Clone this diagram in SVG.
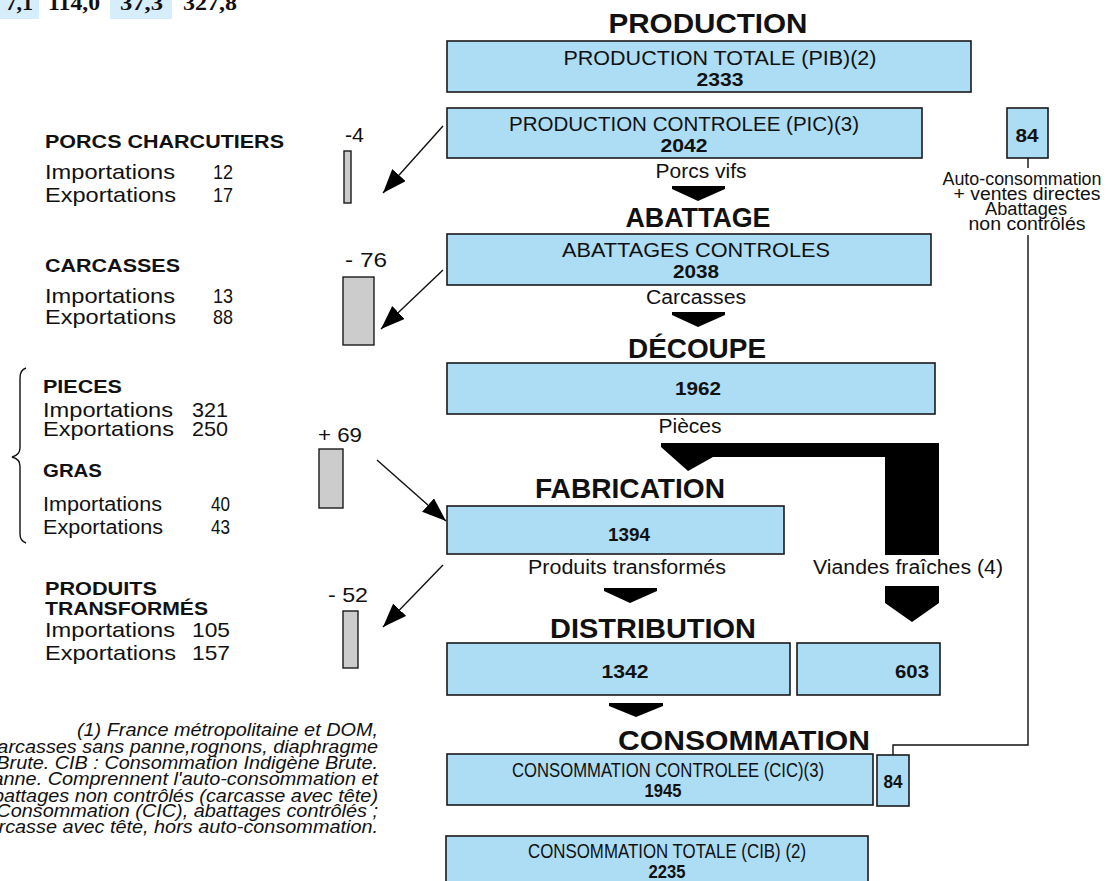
<svg xmlns="http://www.w3.org/2000/svg" width="1118" height="881" viewBox="0 0 1118 881">
<style>
.box{fill:#addcf5;stroke:#1a1a1a;stroke-width:1.6}
.bar{fill:#cccccc;stroke:#1a1a1a;stroke-width:1.4}
.cell{fill:#d6eefb}
text{font-family:"Liberation Sans",Arial,sans-serif;fill:#111}
.h{font-weight:bold;font-size:28px;text-anchor:middle}
.t{font-size:20px}
.L{font-size:21px}
.s{font-size:18px}
.nb{font-size:19px;font-weight:bold}
.b{font-weight:bold}
.c{text-anchor:middle}
.e{text-anchor:end}
.n{font-size:17.5px;font-style:italic}
.serif{font-family:"Liberation Serif","Times New Roman",serif;font-weight:bold;font-size:22px}
.ln{stroke:#111;stroke-width:1.4;fill:none}
.flow{fill:#000}
</style>
<defs>
<marker id="ah" markerUnits="userSpaceOnUse" markerWidth="26" markerHeight="20" refX="24" refY="9" orient="auto">
<path d="M0,0 L24,9 L0,18 z" fill="#000"/>
</marker>
</defs>
<rect width="1118" height="881" fill="#fff"/>

<g id="table-fragment">
<rect class="cell" x="0" y="0" width="39" height="19"/>
<rect class="cell" x="110" y="0" width="62" height="19"/>
<text class="serif e" x="33" y="10">7,1</text>
<text class="serif" x="48" y="10" textLength="52" lengthAdjust="spacingAndGlyphs">114,0</text>
<text class="serif" x="120" y="10" textLength="43" lengthAdjust="spacingAndGlyphs">37,3</text>
<text class="serif" x="183" y="10" textLength="54" lengthAdjust="spacingAndGlyphs">327,8</text>
</g>

<g id="headings">
<text class="h" x="708" y="33" textLength="199" lengthAdjust="spacingAndGlyphs">PRODUCTION</text>
<text class="h" x="698" y="227" textLength="145" lengthAdjust="spacingAndGlyphs">ABATTAGE</text>
<text class="h" x="697" y="358" textLength="138" lengthAdjust="spacingAndGlyphs">DÉCOUPE</text>
<text class="h" x="630" y="498" textLength="190" lengthAdjust="spacingAndGlyphs">FABRICATION</text>
<text class="h" x="653" y="638" textLength="206" lengthAdjust="spacingAndGlyphs">DISTRIBUTION</text>
<text class="h" x="744" y="750" textLength="252" lengthAdjust="spacingAndGlyphs">CONSOMMATION</text>
</g>

<g id="node-pib">
<rect class="box" x="447" y="41" width="524" height="51"/>
<text class="t c" x="720" y="65" textLength="313" lengthAdjust="spacingAndGlyphs">PRODUCTION TOTALE (PIB)(2)</text>
<text class="nb c" x="720" y="86" textLength="47" lengthAdjust="spacingAndGlyphs">2333</text>
</g>

<g id="node-pic">
<rect class="box" x="447" y="108" width="475" height="50"/>
<text class="t c" x="684" y="131" textLength="350" lengthAdjust="spacingAndGlyphs">PRODUCTION CONTROLEE (PIC)(3)</text>
<text class="nb c" x="684" y="152" textLength="47" lengthAdjust="spacingAndGlyphs">2042</text>
</g>

<g id="node-abattages">
<rect class="box" x="447" y="234" width="484" height="51"/>
<text class="t c" x="696" y="257" textLength="268" lengthAdjust="spacingAndGlyphs">ABATTAGES CONTROLES</text>
<text class="nb c" x="696" y="278" textLength="46" lengthAdjust="spacingAndGlyphs">2038</text>
</g>

<g id="node-decoupe">
<rect class="box" x="447" y="363" width="488" height="51"/>
<text class="nb c" x="698" y="395" textLength="46" lengthAdjust="spacingAndGlyphs">1962</text>
</g>

<g id="node-fabrication">
<rect class="box" x="447" y="506" width="337" height="48"/>
<text class="nb c" x="629" y="541" textLength="42" lengthAdjust="spacingAndGlyphs">1394</text>
</g>

<g id="node-distribution-transf">
<rect class="box" x="447" y="643" width="343" height="52"/>
<text class="nb c" x="625" y="678" textLength="47" lengthAdjust="spacingAndGlyphs">1342</text>
</g>

<g id="node-distribution-fraiche">
<rect class="box" x="797" y="643" width="143" height="52"/>
<text class="nb c" x="912" y="678" textLength="34" lengthAdjust="spacingAndGlyphs">603</text>
</g>

<g id="node-cic">
<rect class="box" x="447" y="754" width="426" height="51"/>
<text class="L c" x="668" y="777" textLength="312" lengthAdjust="spacingAndGlyphs">CONSOMMATION CONTROLEE (CIC)(3)</text>
<text class="nb c" x="663" y="797" textLength="37" lengthAdjust="spacingAndGlyphs">1945</text>
</g>

<g id="node-84-bottom">
<rect class="box" x="877" y="755" width="32" height="51"/>
<text class="nb c" x="893" y="788" textLength="19" lengthAdjust="spacingAndGlyphs">84</text>
</g>

<g id="node-cib">
<rect class="box" x="446" y="836" width="422" height="60"/>
<text class="L c" x="667" y="858" textLength="278" lengthAdjust="spacingAndGlyphs">CONSOMMATION TOTALE (CIB) (2)</text>
<text class="nb c" x="667" y="878" textLength="37" lengthAdjust="spacingAndGlyphs">2235</text>
</g>

<g id="node-84-top">
<rect class="box" x="1007" y="108" width="41" height="50"/>
<text class="nb c" x="1027" y="142" textLength="23" lengthAdjust="spacingAndGlyphs">84</text>
</g>

<g id="side-label">
<text class="s c" x="1022" y="185" textLength="159" lengthAdjust="spacingAndGlyphs">Auto-consommation</text>
<text class="s c" x="1027" y="200" textLength="147" lengthAdjust="spacingAndGlyphs">+ ventes directes</text>
<text class="s c" x="1026" y="215" textLength="82" lengthAdjust="spacingAndGlyphs">Abattages</text>
<text class="s c" x="1027" y="230" textLength="117" lengthAdjust="spacingAndGlyphs">non contrôlés</text>
</g>

<g id="connectors">
<polyline class="ln" points="1028,158 1028,168"/>
<polyline class="ln" points="1028,235 1028,745 893,745 893,755"/>
<polygon class="flow" points="672,186 725,186 725,189 698,201 672,189"/>
<polygon class="flow" points="672,312 725,312 725,315 698,327 672,315"/>
<polygon class="flow" points="661,443 939,443 939,555 885,555 885,457 713,457 688,471 661,447"/>
<polygon class="flow" points="604,588 657,588 657,591 630,603 604,591"/>
<polygon class="flow" points="885,586 939,586 939,603 912,622 885,603"/>
<polygon class="flow" points="609,703 663,703 663,706 636,717 609,706"/>
<line class="ln" x1="443" y1="126" x2="383" y2="193" marker-end="url(#ah)"/>
<line class="ln" x1="443" y1="270" x2="381" y2="329" marker-end="url(#ah)"/>
<line class="ln" x1="377" y1="460" x2="446" y2="521" marker-end="url(#ah)"/>
<line class="ln" x1="443" y1="565" x2="383" y2="627" marker-end="url(#ah)"/>
<text class="t c" x="701" y="178" textLength="91" lengthAdjust="spacingAndGlyphs">Porcs vifs</text>
<text class="t c" x="696" y="304" textLength="100" lengthAdjust="spacingAndGlyphs">Carcasses</text>
<text class="t c" x="690" y="433" textLength="63" lengthAdjust="spacingAndGlyphs">Pièces</text>
<text class="t" x="528" y="574" textLength="198" lengthAdjust="spacingAndGlyphs">Produits transformés</text>
<text class="t" x="813" y="574" textLength="190" lengthAdjust="spacingAndGlyphs">Viandes fraîches (4)</text>
</g>

<g id="trade-bars">
<rect class="bar" x="344" y="151" width="7" height="52"/>
<text class="L" x="345" y="142" textLength="19" lengthAdjust="spacingAndGlyphs">-4</text>
<rect class="bar" x="343" y="277" width="31" height="68"/>
<text class="L" x="345" y="267" textLength="42" lengthAdjust="spacingAndGlyphs">- 76</text>
<rect class="bar" x="319" y="449" width="24" height="59"/>
<text class="L" x="318" y="442" textLength="44" lengthAdjust="spacingAndGlyphs">+ 69</text>
<rect class="bar" x="343" y="611" width="15" height="57"/>
<text class="L" x="328" y="602" textLength="40" lengthAdjust="spacingAndGlyphs">- 52</text>
</g>

<g id="trade-labels">
<text class="nb" x="45" y="148" textLength="239" lengthAdjust="spacingAndGlyphs">PORCS CHARCUTIERS</text>
<text class="L" x="45" y="179" textLength="130" lengthAdjust="spacingAndGlyphs">Importations</text>
<text class="L" x="213" y="179" textLength="20" lengthAdjust="spacingAndGlyphs">12</text>
<text class="L" x="45" y="202" textLength="131" lengthAdjust="spacingAndGlyphs">Exportations</text>
<text class="L" x="213" y="202" textLength="20" lengthAdjust="spacingAndGlyphs">17</text>

<text class="nb" x="45" y="272" textLength="135" lengthAdjust="spacingAndGlyphs">CARCASSES</text>
<text class="L" x="45" y="303" textLength="130" lengthAdjust="spacingAndGlyphs">Importations</text>
<text class="L" x="213" y="303" textLength="20" lengthAdjust="spacingAndGlyphs">13</text>
<text class="L" x="45" y="324" textLength="131" lengthAdjust="spacingAndGlyphs">Exportations</text>
<text class="L" x="213" y="324" textLength="20" lengthAdjust="spacingAndGlyphs">88</text>

<path class="ln" d="M26,368 Q20,370 20,378 L20,448 Q20,455 12,457 Q20,459 20,466 L20,534 Q20,541 26,543"/>
<text class="nb" x="43" y="393" textLength="79" lengthAdjust="spacingAndGlyphs">PIECES</text>
<text class="L" x="43" y="417" textLength="130" lengthAdjust="spacingAndGlyphs">Importations</text>
<text class="L" x="192" y="417" textLength="36" lengthAdjust="spacingAndGlyphs">321</text>
<text class="L" x="43" y="436" textLength="131" lengthAdjust="spacingAndGlyphs">Exportations</text>
<text class="L" x="192" y="436" textLength="36" lengthAdjust="spacingAndGlyphs">250</text>
<text class="nb" x="43" y="477" textLength="59" lengthAdjust="spacingAndGlyphs">GRAS</text>
<text class="t" x="43" y="511" textLength="119" lengthAdjust="spacingAndGlyphs">Importations</text>
<text class="t" x="211" y="511" textLength="19" lengthAdjust="spacingAndGlyphs">40</text>
<text class="t" x="43" y="534" textLength="120" lengthAdjust="spacingAndGlyphs">Exportations</text>
<text class="t" x="211" y="534" textLength="19" lengthAdjust="spacingAndGlyphs">43</text>

<text class="nb" x="45" y="595" textLength="112" lengthAdjust="spacingAndGlyphs">PRODUITS</text>
<text class="nb" x="45" y="615" textLength="163" lengthAdjust="spacingAndGlyphs">TRANSFORMÉS</text>
<text class="L" x="45" y="637" textLength="130" lengthAdjust="spacingAndGlyphs">Importations</text>
<text class="L" x="192" y="637" textLength="38" lengthAdjust="spacingAndGlyphs">105</text>
<text class="L" x="45" y="660" textLength="131" lengthAdjust="spacingAndGlyphs">Exportations</text>
<text class="L" x="192" y="660" textLength="38" lengthAdjust="spacingAndGlyphs">157</text>
</g>

<g id="footnotes" transform="translate(378 0) scale(1.135 1)">
<text class="n e" x="0" y="736">(1) France métropolitaine et DOM,</text>
<text class="n e" x="0" y="753">carcasses sans panne,rognons, diaphragme</text>
<text class="n e" x="0" y="769">Brute. CIB : Consommation Indigène Brute.</text>
<text class="n e" x="0" y="785">panne. Comprennent l'auto-consommation et</text>
<text class="n e" x="0" y="802">abattages non contrôlés (carcasse avec tête)</text>
<text class="n e" x="0" y="817">Consommation (CIC), abattages contrôlés ;</text>
<text class="n e" x="0" y="833">carcasse avec tête, hors auto-consommation.</text>
</g>
</svg>
